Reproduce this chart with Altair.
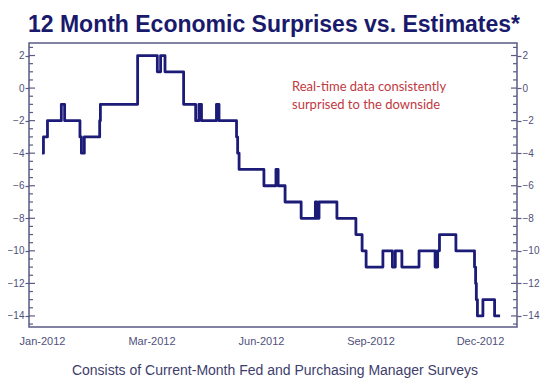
import altair as alt
import pandas as pd

# ---- data (x in label-step units: Jan=0, Mar=3, Jun=6, Sep=9, Dec=12)
x_pos = [0.00, 0.04, 0.15, 0.53, 0.62, 1.04, 1.08, 1.16, 1.58, 1.60,
         2.62, 3.16, 3.25, 3.37, 3.88, 4.21, 4.30, 4.37, 4.78, 4.85,
         5.33, 5.36, 5.40, 6.08, 6.41, 6.47, 6.66, 7.10, 7.49, 7.53,
         7.59, 8.08, 8.60, 8.77, 8.88, 9.34, 9.60, 9.68, 9.86, 10.33,
         10.77, 10.84, 10.89, 11.34, 11.85, 11.88, 11.90, 11.93, 12.08, 12.40,
         12.55]
values = [-4, -3, -2, -1, -2, -3, -4, -3, -2, -1,
          2, 1, 2, 1, -1, -2, -1, -2, -1, -2,
          -3, -4, -5, -6, -5, -6, -7, -8, -7, -8,
          -7, -8, -9, -10, -11, -10, -11, -10, -11, -10,
          -11, -10, -9, -10, -11, -12, -13, -14, -13, -14,
          -14]

x_tick_vals = [0, 3, 6, 9, 12]
x_tick_labels = ["Jan-2012", "Mar-2012", "Jun-2012", "Sep-2012", "Dec-2012"]
y_major = [2, 0, -2, -4, -6, -8, -10, -12, -14]
y_minor = [2.5, 1.5, 1, 0.5, -0.5, -1, -1.5, -2.5, -3, -3.5, -4.5, -5, -5.5,
           -6.5, -7, -7.5, -8.5, -9, -9.5, -10.5, -11, -11.5, -12.5, -13, -13.5, -14.5]

title_text = "12 Month Economic Surprises vs. Estimates*"
note_text = "Real-time data consistently\nsurprised to the downside"
footer_text = "Consists of Current-Month Fed and Purchasing Manager Surveys"

# ---- layout / style
W, H = 488, 284
X_DOMAIN = [-0.356, 13.014]
Y_DOMAIN = [-14.68, 2.77]
NAVY = "#1c1c78"
FRAME = "#5a5a84"
LABEL = "#50507c"
FONT = "Liberation Sans"

df = pd.DataFrame({"x": x_pos, "v": values})
ticks = pd.DataFrame({"t": y_major + y_minor,
                      "kind": ["major"] * len(y_major) + ["minor"] * len(y_minor)})

label_expr = "".join(
    f"datum.value == {v} ? '{l}' : " for v, l in zip(x_tick_vals, x_tick_labels)
) + "''"

xscale = alt.Scale(domain=X_DOMAIN, nice=False, zero=False)
yscale = alt.Scale(domain=Y_DOMAIN, nice=False, zero=False)


def y_axis(orient):
    return alt.Axis(orient=orient, values=y_major, tickSize=4, tickColor=FRAME,
                    tickWidth=1.2, domain=False, grid=False, title=None,
                    labelPadding=1, labelFont=FONT, labelFontSize=10,
                    labelColor=LABEL)


line = alt.Chart(df).mark_line(
    interpolate="step-after", color=NAVY, strokeWidth=2.8, strokeJoin="round"
).encode(
    x=alt.X("x:Q", scale=xscale,
            axis=alt.Axis(values=x_tick_vals, labelExpr=label_expr, ticks=False,
                          domain=False, grid=False, title=None, labelPadding=8,
                          labelFont=FONT, labelFontSize=11, labelColor=LABEL)),
    y=alt.Y("v:Q", scale=yscale, axis=y_axis("left")),
)

tick_base = alt.Chart(ticks)


def inner_ticks(kind, side, length, axis=None):
    if side == "left":
        xa, xb = 0, length
    else:
        xa, xb = W - length, W
    return tick_base.transform_filter(alt.datum.kind == kind).mark_rule(
        color=FRAME, strokeWidth=1.2
    ).encode(
        y=alt.Y("t:Q", scale=yscale, axis=axis),
        x=alt.value(xa), x2=alt.value(xb),
    )


lt_major = inner_ticks("major", "left", 6)
lt_minor = inner_ticks("minor", "left", 4)
rt_major = inner_ticks("major", "right", 6, axis=y_axis("right"))
rt_minor = inner_ticks("minor", "right", 4)

title = alt.Chart(pd.DataFrame({"text": [title_text]})).mark_text(
    align="center", baseline="alphabetic", font=FONT, fontSize=23,
    fontWeight="bold", color="#1a1a6c"
).encode(x=alt.value(245), y=alt.value(-11), text="text:N")

note = alt.Chart(pd.DataFrame({"text": [note_text]})).mark_text(
    align="left", baseline="alphabetic", font="Lato", fontSize=13,
    color="#c0393f", lineBreak="\n", lineHeight=17.5
).encode(x=alt.value(263), y=alt.value(48), text="text:N")

footer = alt.Chart(pd.DataFrame({"text": [footer_text]})).mark_text(
    align="center", baseline="alphabetic", font=FONT, fontSize=14,
    color="#3e3e6c"
).encode(x=alt.value(246), y=alt.value(332), text="text:N")

chart = alt.layer(
    lt_major, lt_minor, rt_major, rt_minor, line, note, title, footer
).resolve_axis(y="independent").properties(
    width=W, height=H,
    autosize=alt.AutoSizeParams(type="none"),
    padding={"left": 21, "top": 35, "right": 25, "bottom": 54},
    background="white",
).configure_view(stroke=FRAME, strokeWidth=1.5)

chart.save("out.html", embed_options={"renderer": "svg", "actions": False})
